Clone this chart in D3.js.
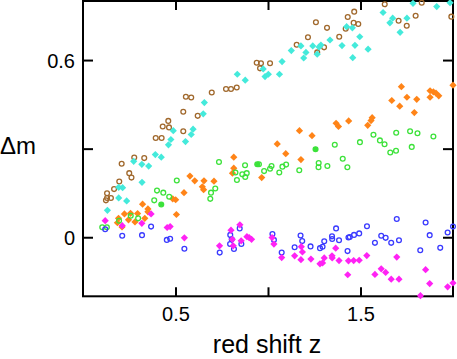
<!DOCTYPE html>
<html><head><meta charset="utf-8">
<script src="https://cdn.jsdelivr.net/npm/d3@7"></script>
<style>body{margin:0;background:#fff}svg{display:block}</style>
</head><body>
<svg id="c" width="457" height="359"></svg>
<script>
// [z, Δm]
const brownCircles = [[0.130,0.149],[0.130,0.133],[0.151,0.133],[0.124,0.125],[0.168,0.163],[0.196,0.189],[0.209,0.249],[0.250,0.217],[0.262,0.202],[0.277,0.270],[0.331,0.268],[0.393,0.336],[0.425,0.336],[0.431,0.375],[0.465,0.372],[0.461,0.394],[0.542,0.359],[0.542,0.425],[0.620,0.411],[0.556,0.476],[0.585,0.473],[0.696,0.490],[0.773,0.502],[0.800,0.502],[0.831,0.507],[0.939,0.591],[0.962,0.589],[0.957,0.572],[1.011,0.589],[1.155,0.652],[1.216,0.677],[1.259,0.728],[1.266,0.626],[1.303,0.643],[1.319,0.709],[1.385,0.679],[1.420,0.706],[1.431,0.746],[1.463,0.726],[1.488,0.722],[1.466,0.764],[1.631,0.789],[1.706,0.733],[1.750,0.716],[1.798,0.750],[1.831,0.794],[1.991,0.747]];
const cyanDiamonds = [[0.132,0.091],[0.193,0.133],[0.236,0.123],[0.193,0.169],[0.214,0.168],[0.319,0.186],[0.274,0.257],[0.318,0.247],[0.355,0.241],[0.391,0.280],[0.423,0.271],[0.462,0.313],[0.475,0.331],[0.488,0.361],[0.554,0.324],[0.595,0.366],[0.585,0.348],[0.650,0.418],[0.656,0.456],[0.834,0.552],[0.877,0.532],[0.974,0.570],[1.002,0.552],[0.984,0.544],[1.062,0.552],[1.076,0.595],[1.126,0.632],[1.178,0.648],[1.205,0.626],[1.193,0.607],[1.242,0.648],[1.266,0.620],[1.276,0.644],[1.286,0.651],[1.335,0.668],[1.400,0.649],[1.425,0.713],[1.456,0.709],[1.458,0.608],[1.470,0.650],[1.496,0.679],[1.541,0.637],[1.622,0.761],[1.659,0.726],[1.674,0.742],[1.714,0.694],[1.751,0.742],[1.784,0.792],[1.912,0.781],[1.984,0.794]];
const orangeDiamonds = [[0.186,0.049],[0.192,0.064],[0.211,0.035],[0.224,0.079],[0.246,0.059],[0.257,0.081],[0.281,0.052],[0.295,0.080],[0.322,0.112],[0.334,0.064],[0.351,0.096],[0.351,0.086],[0.485,0.130],[0.501,0.127],[0.505,0.077],[0.546,0.151],[0.578,0.207],[0.604,0.191],[0.654,0.191],[0.708,0.190],[0.645,0.171],[0.652,0.161],[0.815,0.271],[0.815,0.234],[0.808,0.217],[0.966,0.202],[1.050,0.316],[1.096,0.283],[1.170,0.361],[1.178,0.263],[1.238,0.344],[1.368,0.386],[1.381,0.375],[1.436,0.394],[1.563,0.405],[1.557,0.395],[1.539,0.379],[1.669,0.463],[1.712,0.444],[1.721,0.510],[1.751,0.474],[1.804,0.467],[1.791,0.422],[1.876,0.496],[1.894,0.492],[1.908,0.488],[1.923,0.479],[1.876,0.474],[2.000,0.515]];
const greenCircles = [[0.104,0.034],[0.129,0.034],[0.195,0.056],[0.258,0.073],[0.298,0.064],[0.385,0.125],[0.400,0.158],[0.434,0.151],[0.466,0.137],[0.507,0.192],[0.688,0.130],[0.692,0.151],[0.715,0.165],[0.735,0.255],[0.824,0.219],[0.832,0.194],[0.861,0.213],[0.876,0.244],[0.877,0.204],[0.885,0.217],[0.951,0.247],[0.979,0.224],[1.011,0.232],[1.019,0.241],[1.061,0.219],[1.078,0.239],[1.098,0.246],[1.169,0.227],[1.274,0.251],[1.273,0.237],[1.321,0.241],[1.361,0.313],[1.404,0.266],[1.429,0.237],[1.497,0.322],[1.570,0.347],[1.605,0.328],[1.630,0.315],[1.661,0.287],[1.692,0.293],[1.693,0.354],[1.768,0.359],[1.777,0.306],[1.808,0.352],[1.894,0.341]];
const greenDots = [[0.423,0.111],[0.942,0.247],[1.257,0.298]];
const blueCircles = [[0.120,0.027],[0.212,0.005],[0.319,0.007],[0.368,0.036],[0.453,-0.009],[0.471,-0.005],[0.548,-0.039],[0.739,-0.052],[0.796,0.008],[0.804,-0.007],[0.795,-0.023],[0.816,-0.040],[0.847,0.030],[0.856,-0.023],[1.024,0.011],[1.032,-0.009],[1.074,-0.052],[1.144,-0.034],[1.176,0.006],[1.185,-0.013],[1.230,-0.031],[1.281,-0.037],[1.295,-0.032],[1.304,-0.014],[1.346,0.003],[1.347,-0.006],[1.368,0.030],[1.384,-0.010],[1.430,-0.047],[1.435,-0.001],[1.442,0.001],[1.465,0.008],[1.493,0.013],[1.535,0.037],[1.578,-0.019],[1.612,0.005],[1.636,-0.002],[1.666,-0.019],[1.696,0.062],[1.708,-0.010],[1.823,-0.044],[1.852,0.050],[1.874,0.007],[1.931,-0.036],[1.971,0.016],[2.000,0.036]];
const magentaDiamonds = [[0.120,0.056],[0.212,0.039],[0.318,0.047],[0.368,0.079],[0.455,0.033],[0.471,0.036],[0.548,-0.002],[0.738,-0.029],[0.800,0.024],[0.848,0.042],[0.807,-0.007],[0.812,-0.029],[0.855,-0.012],[0.886,0.002],[0.898,-0.001],[0.911,-0.007],[1.022,-0.001],[1.032,-0.023],[1.074,-0.069],[1.144,-0.063],[1.180,-0.032],[1.186,-0.050],[1.178,-0.076],[1.232,-0.074],[1.281,-0.090],[1.295,-0.087],[1.304,-0.070],[1.346,-0.063],[1.347,-0.070],[1.366,-0.037],[1.384,-0.079],[1.431,-0.127],[1.435,-0.080],[1.463,-0.079],[1.493,-0.078],[1.534,-0.062],[1.578,-0.126],[1.612,-0.107],[1.636,-0.119],[1.666,-0.142],[1.696,-0.067],[1.708,-0.142],[1.824,-0.198],[1.852,-0.110],[1.874,-0.157],[1.971,-0.168],[2.000,-0.155]];

const xTicks = [0.5, 1.0, 1.5];
const xTickLabels = ["0.5", "", "1.5"];
const yTicks = [0, 0.3, 0.6];
const yTickLabels = ["0", "", "0.6"];
const xTitle = "red shift z";
const yTitle = "Δm";

const colors = {brown:"#a0682c", cyan:"#44eadb", orange:"#ff8418", green:"#3ce23a", blue:"#3a3aff", magenta:"#ff22f4"};

const svg = d3.select("#c");
const x = d3.scaleLinear().domain([0, 2]).range([83, 453]);
const y = d3.scaleLinear().domain([-0.2, 0.8]).range([296.3, 1]);
const font = "'Liberation Sans', Arial, Helvetica, sans-serif";

function styleAxis(g){
  g.select(".domain").remove();
  g.selectAll(".tick line").attr("stroke","#000").attr("stroke-width",2);
  g.selectAll(".tick text").attr("font-family",font).attr("font-size",20).attr("fill","#000");
}
const L = svg.append("g").attr("transform",`translate(${x.range()[0]},0)`)
  .call(d3.axisLeft(y).tickValues(yTicks).tickSizeInner(-10).tickSizeOuter(0).tickPadding(8)
    .tickFormat((d,i)=>yTickLabels[i]));
styleAxis(L);
L.selectAll(".tick text").attr("dy","0.36em");
const R = svg.append("g").attr("transform",`translate(${x.range()[1]},0)`)
  .call(d3.axisRight(y).tickValues(yTicks).tickSizeInner(-10).tickSizeOuter(0).tickFormat(""));
styleAxis(R);
const B = svg.append("g").attr("transform",`translate(0,${y.range()[0]})`)
  .call(d3.axisBottom(x).tickValues(xTicks).tickSizeInner(-9).tickSizeOuter(0).tickPadding(11)
    .tickFormat((d,i)=>xTickLabels[i]));
styleAxis(B);
B.selectAll(".tick text").attr("dy","0.71em");
const T = svg.append("g").attr("transform",`translate(0,${y.range()[1]})`)
  .call(d3.axisTop(x).tickValues(xTicks).tickSizeInner(-9).tickSizeOuter(0).tickFormat(""));
styleAxis(T);

svg.append("rect").attr("x",x.range()[0]).attr("y",y.range()[1])
  .attr("width",x.range()[1]-x.range()[0]).attr("height",y.range()[0]-y.range()[1])
  .attr("fill","none").attr("stroke","#000").attr("stroke-width",2);

svg.append("text").attr("x",267).attr("y",353).attr("text-anchor","middle")
  .attr("font-family",font).attr("font-size",25).text(xTitle);
svg.append("text").attr("x",0).attr("y",154).attr("text-anchor","start")
  .attr("font-family",font).attr("font-size",24).text(yTitle);

const diamond = r => `M0,${-r}L${r},0L0,${r}L${-r},0Z`;
function circles(data, color, filled){
  svg.append("g").selectAll("circle").data(data).join("circle")
    .attr("cx",d=>x(d[0])).attr("cy",d=>y(d[1])).attr("r",2.4)
    .attr("fill",filled?color:"none").attr("stroke",color).attr("stroke-width",1.3);
}
function diamonds(data, color){
  svg.append("g").selectAll("path").data(data).join("path")
    .attr("transform",d=>`translate(${x(d[0])},${y(d[1])})`)
    .attr("d",diamond(3.6)).attr("fill",color);
}
circles(brownCircles, colors.brown, false);
diamonds(cyanDiamonds, colors.cyan);
diamonds(orangeDiamonds, colors.orange);
circles(greenCircles, colors.green, false);
circles(greenDots, colors.green, true);
circles(blueCircles, colors.blue, false);
diamonds(magentaDiamonds, colors.magenta);
</script>
</body></html>
